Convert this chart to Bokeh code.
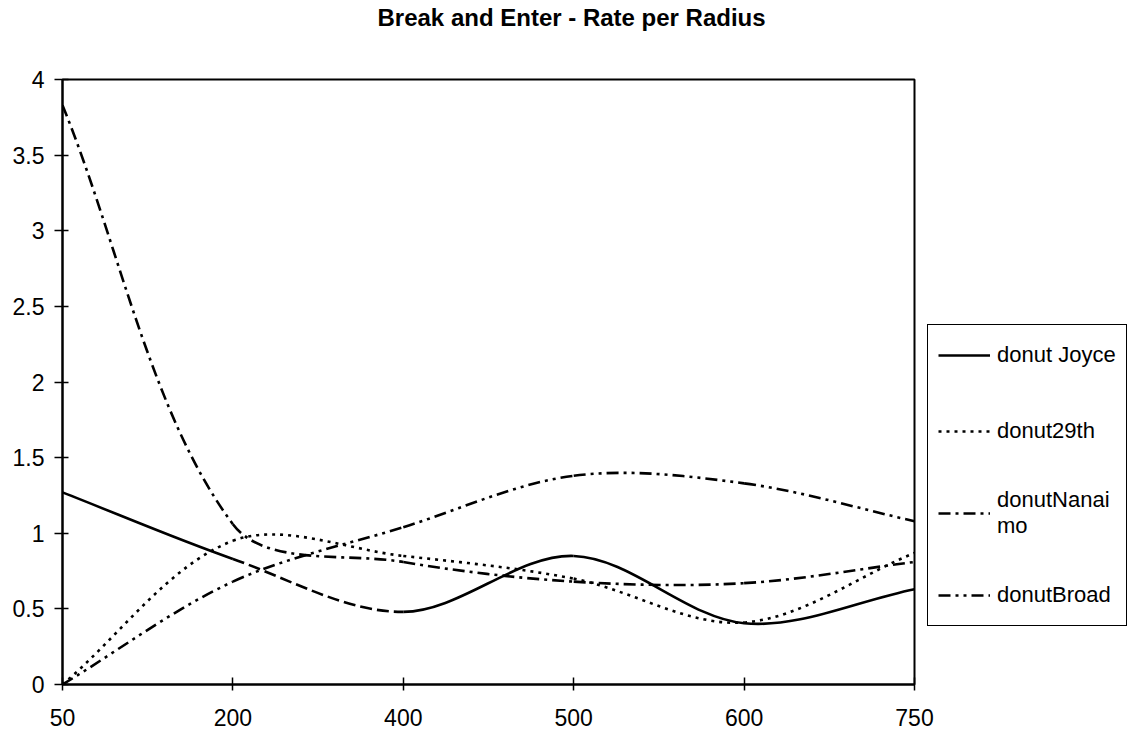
import math
from bokeh.plotting import figure
from bokeh.models import (Range1d, FixedTicker, NumeralTickFormatter, Legend,
                          LegendItem, ColumnDataSource, Title)
from bokeh.embed import file_html
from bokeh.resources import INLINE

# ---- data ----
categories = ["50", "200", "400", "500", "600", "750"]
donut_joyce = [1.27, 0.83, 0.48, 0.85, 0.405, 0.63]
donut_29th = [0.0, 0.95, 0.85, 0.70, 0.41, 0.87]
donut_nanaimo = [3.83, 1.06, 0.81, 0.68, 0.67, 0.81]
donut_broad = [0.0, 0.68, 1.04, 1.38, 1.33, 1.08]
series_names = ["donut Joyce", "donut29th", "donutNanai\nmo", "donutBroad"]
y_ticks = [0, 0.5, 1, 1.5, 2, 2.5, 3, 3.5, 4]
chart_title = "Break and Enter - Rate per Radius"

FONT = "Liberation Sans"
ASPECT = 151.2 / 170.4  # y-pixels per unit / x-pixels per category (for smooth curves)


def smooth_segments(ys, lo=0, hi=None):
    """Bezier control points (Excel-like smoothing) for segments lo..hi-1."""
    n = len(ys)
    xs = list(range(n))
    if hi is None:
        hi = n - 1

    def dist(i, j):
        return math.hypot(xs[j] - xs[i], (ys[j] - ys[i]) * ASPECT)

    out = dict(x0=[], y0=[], x1=[], y1=[], cx0=[], cy0=[], cx1=[], cy1=[])
    for i in range(lo, hi):
        a, b, c, e = max(i - 1, 0), i, i + 1, min(i + 2, n - 1)
        dbc = dist(b, c)
        f1 = dbc / (dist(a, b) + dbc) / 3
        f2 = dbc / (dbc + dist(c, e)) / 3
        out["x0"].append(xs[b]); out["y0"].append(ys[b])
        out["x1"].append(xs[c]); out["y1"].append(ys[c])
        out["cx0"].append(xs[b] + (xs[c] - xs[a]) * f1)
        out["cy0"].append(ys[b] + (ys[c] - ys[a]) * f1)
        out["cx1"].append(xs[c] - (xs[e] - xs[b]) * f2)
        out["cy1"].append(ys[c] - (ys[e] - ys[b]) * f2)
    return ColumnDataSource(out)


p = figure(frame_width=852, frame_height=605, output_backend="svg", toolbar_location=None,
           x_range=Range1d(0, len(categories) - 1), y_range=Range1d(0, 4),
           min_border_left=62, min_border_right=0, min_border_top=79,
           min_border_bottom=51)

# built-in title left empty; a spacer sits next to the frame, the real title above it
p.title.text = ""
p.title.standoff = 0
p.add_layout(Title(text=" ", text_font_size="2px", standoff=45), "above")
p.add_layout(Title(text=chart_title, text_font=FONT, text_font_size="24px",
                   text_font_style="bold", text_color="black", align="left",
                   offset=315, standoff=0), "above")

p.xgrid.visible = False
p.ygrid.visible = False
p.background_fill_color = "white"
p.border_fill_color = "white"
p.outline_line_color = "black"
p.outline_line_width = 2
p.outline_line_alpha = 1

# axes
p.xaxis.ticker = FixedTicker(ticks=list(range(len(categories))))
p.xaxis.major_label_overrides = {i: c for i, c in enumerate(categories)}
p.yaxis.ticker = FixedTicker(ticks=y_ticks)
p.yaxis.formatter = NumeralTickFormatter(format="0.[0]")
for ax in (p.xaxis, p.yaxis):
    ax.axis_line_color = "black"
    ax.axis_line_width = 2
    ax.major_tick_line_color = "black"
    ax.major_tick_line_width = 1.5
    ax.minor_tick_line_color = None
    ax.major_label_text_font = FONT
    ax.major_label_text_font_size = "23px"
    ax.major_label_text_color = "black"
p.xaxis.major_tick_in = 7
p.xaxis.major_tick_out = 6
p.xaxis.major_label_standoff = 18
p.yaxis.major_tick_in = 6
p.yaxis.major_tick_out = 8
p.yaxis.major_label_standoff = 10

LW = 2.6
BZ = dict(x0="x0", y0="y0", x1="x1", y1="y1", cx0="cx0", cy0="cy0", cx1="cx1", cy1="cy1",
          line_color="black", line_width=LW)
# donut Joyce (solid, with the 200-400 segment drawn dashed as in the reference)
r_joyce = p.bezier(source=smooth_segments(donut_joyce, 0, 1), **BZ)
p.bezier(source=smooth_segments(donut_joyce, 1, 2), line_dash="12 5", **BZ)
p.bezier(source=smooth_segments(donut_joyce, 2), **BZ)
# donut29th (dotted)
r_29 = p.bezier(source=smooth_segments(donut_29th), line_dash="3 5", **BZ)
# donutNanaimo (dash-dot)
r_nan = p.bezier(source=smooth_segments(donut_nanaimo), line_dash="12 5 3 5", **BZ)
# donutBroad (dash-dot-dot)
r_br = p.bezier(source=smooth_segments(donut_broad), line_dash="12 5 3 5 3 5", **BZ)

items = [LegendItem(label=n, renderers=[r], index=0)
         for n, r in zip(series_names, [r_joyce, r_29, r_nan, r_br])]

legend = Legend(items=items, location=(13, 58))
legend.label_text_font = FONT
legend.label_text_font_size = "22px"
legend.label_text_color = "black"
legend.glyph_width = 52
legend.glyph_height = 20
legend.label_height = 40
legend.label_standoff = 7
legend.padding = 10
legend.spacing = 36
legend.margin = 0
legend.border_line_color = "black"
legend.border_line_width = 1.5
legend.border_line_alpha = 1
legend.background_fill_color = "white"
legend.background_fill_alpha = 1
p.add_layout(legend, "right")

open("out.html", "w").write(file_html(p, INLINE))
